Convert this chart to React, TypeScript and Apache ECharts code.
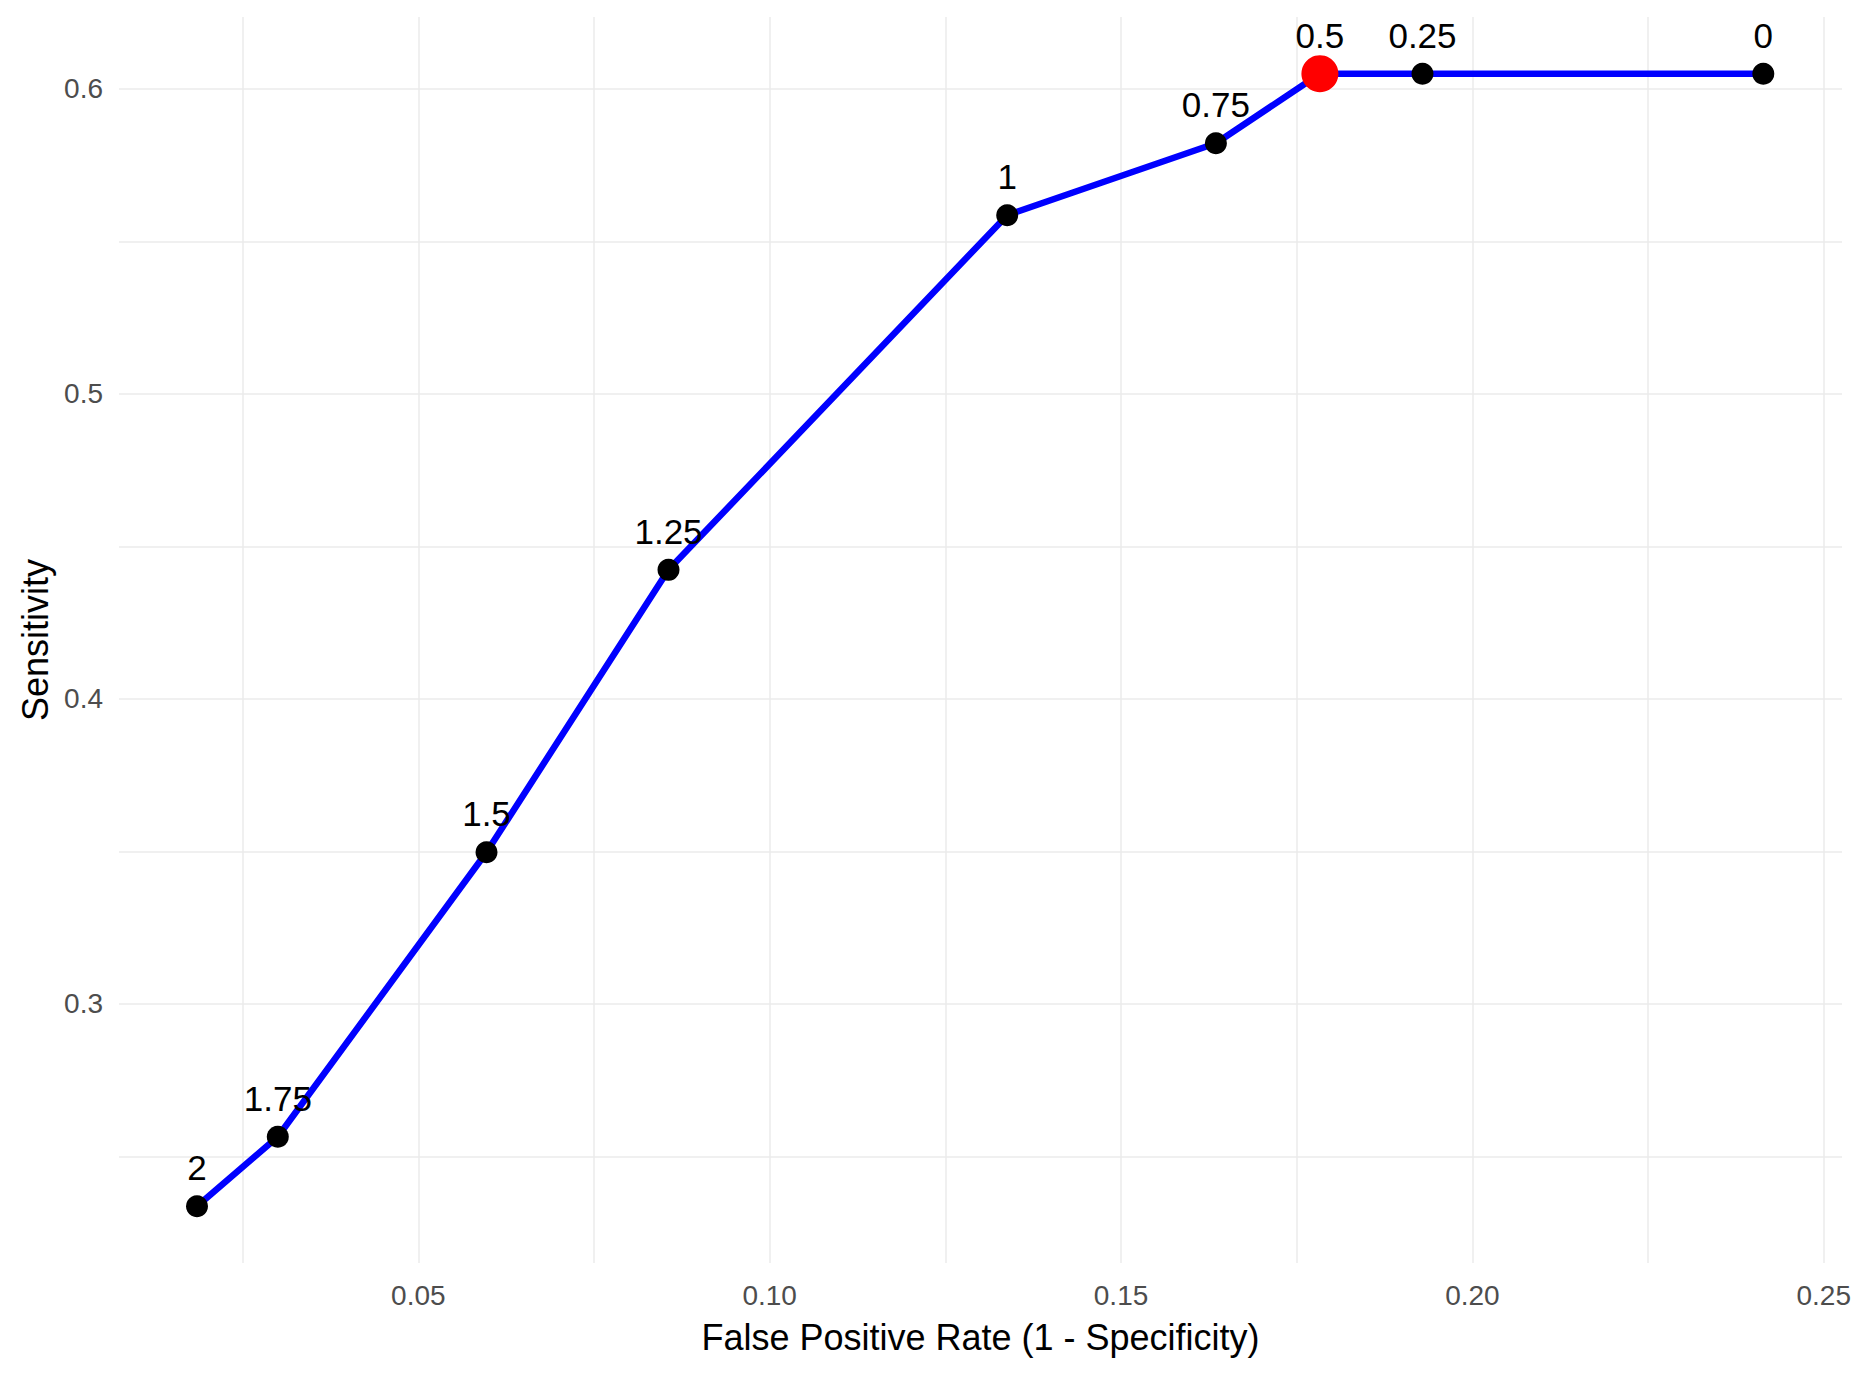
import React, { useEffect, useRef } from "react";
import * as echarts from "echarts";

const thresholds = ["2", "1.75", "1.5", "1.25", "1", "0.75", "0.5", "0.25", "0"];
const fprValues = [0.0185, 0.03, 0.0597, 0.0856, 0.1338, 0.1635, 0.1783, 0.1929, 0.2414];
const sensValues = [0.2336, 0.2564, 0.3497, 0.4423, 0.5586, 0.5822, 0.605, 0.605, 0.605];
const optimalPoint = [0.1783, 0.605];

const xRange = [0.0074, 0.2526];
const yRange = [0.215, 0.6236];
const xMajorTicks = [0.05, 0.1, 0.15, 0.2, 0.25];
const xGridTicks = [0.025, 0.05, 0.075, 0.1, 0.125, 0.15, 0.175, 0.2, 0.225, 0.25];
const yMajorTicks = [0.3, 0.4, 0.5, 0.6];
const yGridTicks = [0.25, 0.3, 0.35, 0.4, 0.45, 0.5, 0.55, 0.6];

const FONT = "'Liberation Sans', Arial, sans-serif";

export default function App() {
  const ref = useRef<HTMLDivElement>(null);

  useEffect(() => {
    document.body.style.margin = "0";
    if (!ref.current) return;
    const chart = echarts.init(ref.current, null, { renderer: "svg" });
    const linePoints = fprValues.map((x, i) => [x, sensValues[i]]);
    chart.setOption({
      animation: false,
      backgroundColor: "#ffffff",
      textStyle: { fontFamily: FONT },
      grid: { left: 119, right: 15, top: 17, bottom: 110, containLabel: false },
      xAxis: {
        type: "value",
        min: xRange[0],
        max: xRange[1],
        name: "False Positive Rate (1 - Specificity)",
        nameLocation: "middle",
        nameGap: 56,
        nameTextStyle: { fontSize: 36, color: "#000000", fontFamily: FONT },
        axisLine: { show: false },
        axisTick: { show: false, customValues: xGridTicks },
        axisLabel: {
          customValues: xMajorTicks,
          fontSize: 28,
          color: "#4D4D4D",
          margin: 18,
          fontFamily: FONT,
          formatter: (v: number) => v.toFixed(2),
        },
        splitLine: { show: true, lineStyle: { color: "#EBEBEB", width: 1.5 } },
      },
      yAxis: {
        type: "value",
        min: yRange[0],
        max: yRange[1],
        name: "Sensitivity",
        nameLocation: "middle",
        nameGap: 62,
        nameRotate: 90,
        nameTextStyle: { fontSize: 36, color: "#000000", fontFamily: FONT },
        axisLine: { show: false },
        axisTick: { show: false, customValues: yGridTicks },
        axisLabel: {
          customValues: yMajorTicks,
          fontSize: 28,
          color: "#4D4D4D",
          margin: 16,
          fontFamily: FONT,
          formatter: (v: number) => v.toFixed(1),
        },
        splitLine: { show: true, lineStyle: { color: "#EBEBEB", width: 1.5 } },
      },
      series: [
        {
          type: "line",
          data: linePoints,
          lineStyle: { color: "#0000FF", width: 6.5 },
          symbol: "circle",
          symbolSize: 22,
          itemStyle: { color: "#000000", opacity: 1 },
          emphasis: { disabled: true },
          label: {
            show: true,
            position: "top",
            distance: 10,
            fontSize: 35,
            color: "#000000",
            fontFamily: FONT,
            formatter: (p: any) => thresholds[p.dataIndex],
          },
          z: 2,
        },
        {
          type: "scatter",
          data: [optimalPoint],
          symbol: "circle",
          symbolSize: 37,
          itemStyle: { color: "#FF0000", opacity: 1 },
          emphasis: { disabled: true },
          z: 3,
        },
      ],
    });
    return () => chart.dispose();
  }, []);

  return <div ref={ref} style={{ width: 1857, height: 1373 }} />;
}
